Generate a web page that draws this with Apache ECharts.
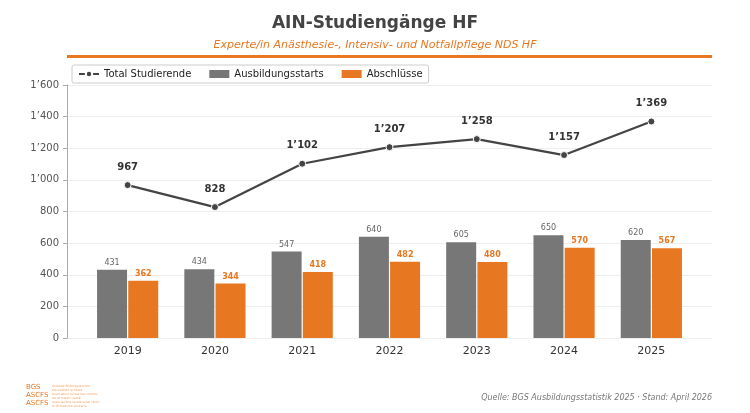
<!DOCTYPE html>
<html><head><meta charset="utf-8">
<script src="https://cdn.jsdelivr.net/npm/echarts@6/dist/echarts.min.js"></script>
<style>html,body{margin:0;padding:0;background:#fff}#c{width:750px;height:413px}</style>
</head><body><div id="c"></div>
<script>
const years=['2019','2020','2021','2022','2023','2024','2025'];
const total=[967,828,1102,1207,1258,1157,1369];
const starts=[431,434,547,640,605,650,620];
const grads=[362,344,418,482,480,570,567];
const fmt=v=>{const s=String(v);return s.length>3?s.slice(0,-3)+'’'+s.slice(-3):s;};
const F='DejaVu Sans';
const ch=echarts.init(document.getElementById('c'));
ch.setOption({
 textStyle:{fontFamily:F},
 title:{text:'AIN-Studiengänge HF',left:'center',top:10,textStyle:{fontFamily:F,fontSize:17,fontWeight:'bold',color:'#444'},
  subtext:'Experte/in Anästhesie-, Intensiv- und Notfallpflege NDS HF',subtextStyle:{fontFamily:F,fontSize:11,fontStyle:'italic',color:'#e87722'},itemGap:8},
 legend:{left:72,top:65,itemGap:18,itemWidth:20,itemHeight:8,borderColor:'#ccc',borderWidth:1,borderRadius:2,padding:[4,6],
  textStyle:{fontFamily:F,fontSize:10,color:'#222'},
  data:[{name:'Total Studierende'},{name:'Ausbildungsstarts',icon:'rect'},{name:'Abschlüsse',icon:'rect'}]},
 grid:[{left:67,right:38,top:85,bottom:75},{left:84,right:55,top:85,bottom:75}],
 xAxis:[{type:'value',gridIndex:0,show:false,min:0,max:1},
  {type:'category',gridIndex:1,data:years,axisTick:{show:false},axisLine:{show:false},axisLabel:{fontSize:11,color:'#333',margin:8}}],
 yAxis:[{type:'value',gridIndex:0,min:0,max:1600,interval:200,axisLine:{show:true,lineStyle:{color:'#aaa'}},axisTick:{show:true,length:4},
  splitLine:{lineStyle:{color:'#eee'}},axisLabel:{fontSize:10,color:'#555',formatter:fmt}},
  {type:'value',gridIndex:1,min:0,max:1600,interval:200,show:false}],
 series:[
  {name:'Ausbildungsstarts',type:'bar',xAxisIndex:1,yAxisIndex:1,data:starts,barWidth:30,barGap:'4%',itemStyle:{color:'#777777'},
   label:{show:true,position:'top',fontSize:8,color:'#666',distance:3}},
  {name:'Abschlüsse',type:'bar',xAxisIndex:1,yAxisIndex:1,data:grads,barWidth:30,itemStyle:{color:'#e87722'},
   label:{show:true,position:'top',fontSize:8,fontWeight:'bold',color:'#e87722',distance:3}},
  {name:'Total Studierende',type:'line',xAxisIndex:1,yAxisIndex:1,data:total,color:'#444',symbol:'circle',symbolSize:7,
   lineStyle:{width:2.2,color:'#444'},itemStyle:{color:'#444',borderColor:'#fff',borderWidth:1},
   label:{show:true,position:'top',distance:9,fontSize:10,fontWeight:'bold',color:'#333',formatter:p=>fmt(p.value)}}
 ],
 graphic:[
  {type:'rect',shape:{x:67,y:55,width:645,height:3},style:{fill:'#e87722'}},
  {type:'line',shape:{x1:67,y1:338.5,x2:712,y2:338.5},style:{stroke:'#aaa',lineWidth:1}},
  {type:'text',right:38,top:394,style:{text:'Quelle: BGS Ausbildungsstatistik 2025 · Stand: April 2026',fontFamily:F,fontSize:8,fontStyle:'italic',fill:'#777'}},
  {type:'text',left:26,top:383,style:{text:'BGS\nASCFS\nASCFS',fontFamily:F,fontSize:7,lineHeight:8,fill:'#e87722',align:'right',x:18}},
  {type:'text',left:52,top:384,style:{text:'Verband Bildungszentren\nGesundheit Schweiz\nAssociation suisse des centres\nde formation santé\nAssociazione svizzera dei centri\ndi formazione sanitaria',fontFamily:F,fontSize:3,lineHeight:4,fill:'#f0a060'}}
 ]
});
</script></body></html>
